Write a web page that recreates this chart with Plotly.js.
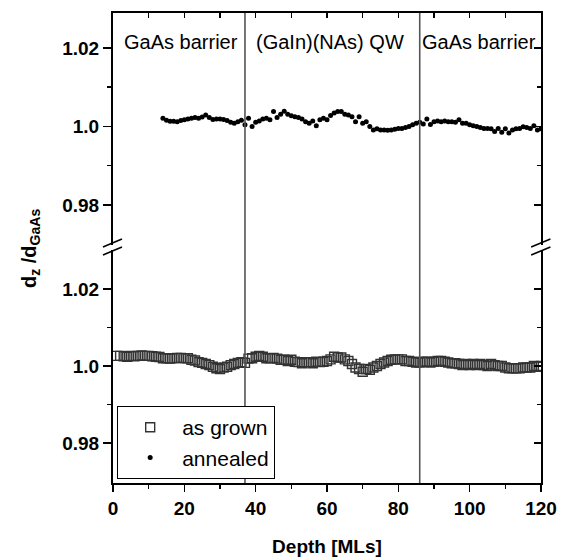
<!DOCTYPE html>
<html>
<head>
<meta charset="utf-8">
<script src="https://cdn.plot.ly/plotly-3.0.1.min.js"></script>
<style>html,body{margin:0;padding:0;background:#fff;}#chart{width:565px;height:560px;}</style>
</head>
<body>
<div id="chart"></div>
<script>
// ---- data ----
const grownDepth = [1,2,3,4,5,6,7,8,9,10,11,12,13,14,15,16,17,18,19,20,21,22,23,24,25,26,27,28,29,30,31,32,33,34,35,36,37,38,39,40,41,42,43,44,45,46,47,48,49,50,51,52,53,54,55,56,57,58,59,60,61,62,63,64,65,66,67,68,69,70,71,72,73,74,75,76,77,78,79,80,81,82,83,84,85,86,87,88,89,90,91,92,93,94,95,96,97,98,99,100,101,102,103,104,105,106,107,108,109,110,111,112,113,114,115,116,117,118,119,120];
const grownRatio = [1.0026,1.0026,1.0025,1.0024,1.0026,1.0025,1.0026,1.0027,1.0026,1.0026,1.0025,1.0024,1.0023,1.0020,1.0020,1.0019,1.0020,1.0021,1.0021,1.0020,1.0020,1.0016,1.0014,1.0010,1.0008,1.0005,1.0002,0.9998,0.9994,0.9992,0.9996,0.9998,1.0002,1.0005,1.0008,1.0010,1.0008,1.0019,1.0020,1.0024,1.0026,1.0024,1.0020,1.0020,1.0021,1.0019,1.0016,1.0016,1.0013,1.0016,1.0011,1.0010,1.0007,1.0010,1.0010,1.0007,1.0011,1.0010,1.0011,1.0013,1.0017,1.0024,1.0022,1.0022,1.0017,1.0013,1.0005,0.9996,0.9992,0.9985,0.9992,0.9990,0.9996,1.0000,1.0005,1.0009,1.0013,1.0016,1.0017,1.0017,1.0017,1.0013,1.0013,1.0011,1.0009,1.0009,1.0011,1.0011,1.0009,1.0011,1.0013,1.0013,1.0011,1.0009,1.0007,1.0007,1.0005,1.0002,1.0005,1.0002,1.0005,1.0002,1.0005,1.0002,1.0000,1.0005,1.0002,1.0000,1.0000,0.9996,0.9994,0.9994,0.9994,0.9994,0.9996,0.9996,0.9996,1.0000,0.9998,1.0000];

const annealedDepth = [14,15,16,17,18,19,20,21,22,23,24,25,26,27,28,29,30,31,32,33,34,35,36,37,38,39,40,41,42,43,44,45,46,47,48,49,50,51,52,53,54,55,56,57,58,59,60,61,62,63,64,65,66,67,68,69,70,71,72,73,74,75,76,77,78,79,80,81,82,83,84,85,86,87,88,89,90,91,92,93,94,95,96,97,98,99,100,101,102,103,104,105,106,107,108,109,110,111,112,113,114,115,116,117,118,119,120];
const annealedRatio = [1.0021,1.0016,1.0013,1.0013,1.0012,1.0015,1.0017,1.0019,1.0021,1.0023,1.0021,1.0024,1.0029,1.0023,1.0018,1.0019,1.0019,1.0018,1.0015,1.0011,1.0008,1.0012,1.0016,1.0004,1.0021,1.0000,1.0011,1.0014,1.0019,1.0021,1.0017,1.0038,1.0023,1.0031,1.0039,1.0031,1.0027,1.0025,1.0023,1.0019,1.0012,1.0008,1.0014,1.0002,1.0017,1.0021,1.0017,1.0028,1.0034,1.0038,1.0038,1.0031,1.0029,1.0025,1.0012,1.0025,1.0008,1.0012,1.0000,0.9991,0.9994,0.9991,0.9991,0.9990,0.9991,0.9993,0.9995,0.9995,0.9997,1.0000,1.0004,1.0008,1.0011,1.0006,1.0019,1.0005,1.0012,1.0014,1.0012,1.0014,1.0012,1.0012,1.0011,1.0017,1.0008,1.0008,1.0004,1.0002,1.0000,0.9997,0.9995,0.9995,0.9994,0.9987,0.9995,0.9985,0.9994,0.9983,0.9991,0.9994,0.9995,0.9999,0.9997,0.9995,1.0002,0.9991,0.9994];

const seriesNames = ['as grown', 'annealed'];
const regionLabels = ['GaAs barrier', '(GaIn)(NAs) QW', 'GaAs barrier'];
const regionCenters = [19, 60.8, 102.7];
const interfaces = [37, 86];
const yTickVals = [0.98, 1.0, 1.02];
const yTickText = ['0.98', '1.0', '1.02'];
const yMinorVals = [0.99, 1.01];

// ---- style ----
const FONT = 'Liberation Sans, Arial, Helvetica, sans-serif';
const rangeBottom = [0.9696, 1.0301];
const rangeTop = [0.9698, 1.0289];
const domBottom = [0, 0.4957];
const domTop = [0.5064, 1];

// empty helper traces only register the mirrored frame axes (no points)
const frameTrace = (xa, ya) => ({x: [], y: [], type: 'scatter', mode: 'markers', xaxis: xa, yaxis: ya, showlegend: false, hoverinfo: 'skip'});

const traces = [
  {
    x: grownDepth, y: grownRatio, name: seriesNames[0],
    type: 'scatter', mode: 'markers', xaxis: 'x', yaxis: 'y',
    marker: {symbol: 'square-open', size: 9, color: '#333', line: {width: 1.4, color: '#333'}}
  },
  {
    x: annealedDepth, y: annealedRatio, name: seriesNames[1],
    type: 'scatter', mode: 'markers', xaxis: 'x', yaxis: 'y2',
    marker: {symbol: 'circle', size: 5, color: '#000'}
  },
  frameTrace('x2', 'y2'),
  frameTrace('x', 'y3'),
  frameTrace('x', 'y4')
];

const yCommon = {
  showline: true, linewidth: 2, linecolor: '#000', showgrid: false, zeroline: false,
  tickmode: 'array', tickvals: yTickVals, ticktext: yTickText,
  tickwidth: 1.5, tickcolor: '#000',
  tickfont: {family: FONT, size: 19, color: '#000', weight: 'bold'}
};

const shapes = [];
interfaces.forEach(v => shapes.push({
  type: 'line', xref: 'x', yref: 'paper', x0: v, x1: v, y0: 0, y1: 1,
  line: {color: '#555', width: 1.6}, layer: 'above'
}));
// axis break marks (left and right)
[[-0.0234, 0.021], [0.977, 1.022]].forEach(([a, b]) => {
  shapes.push({type: 'line', xref: 'paper', yref: 'paper', x0: a, x1: b, y0: 0.502, y1: 0.519, line: {color: '#000', width: 1.6}});
  shapes.push({type: 'line', xref: 'paper', yref: 'paper', x0: a, x1: b, y0: 0.485, y1: 0.502, line: {color: '#000', width: 1.6}});
});

const annotations = regionLabels.map((t, i) => ({
  text: t, x: regionCenters[i], xref: 'x', y: 0.938, yref: 'paper',
  showarrow: false, xanchor: 'center', yanchor: 'middle',
  font: {family: FONT, size: 20, color: '#000'}
}));
annotations.push({
  text: 'd<sub>z</sub> /d<sub>GaAs</sub>', textangle: -90,
  x: -0.194, xref: 'paper', y: 0.5, yref: 'paper', showarrow: false,
  xanchor: 'center', yanchor: 'middle',
  font: {family: FONT, size: 20, color: '#000', weight: 'bold'}
});

const layout = {
  width: 565, height: 560,
  margin: {l: 113, r: 24.3, t: 13, b: 77, pad: 0},
  paper_bgcolor: '#fff', plot_bgcolor: '#fff',
  showlegend: true,
  legend: {
    x: 0.0093, y: 0.164, xanchor: 'left', yanchor: 'top',
    bgcolor: '#fff', bordercolor: '#000', borderwidth: 1.2,
    itemwidth: 54, tracegroupgap: 0,
    font: {family: FONT, size: 21, color: '#000'}
  },
  xaxis: {
    domain: [0, 1], range: [0, 120], anchor: 'y',
    showline: true, linewidth: 2, linecolor: '#000', showgrid: false, zeroline: false,
    ticks: 'outside', ticklen: 7, tickwidth: 1.5, tickcolor: '#000',
    tick0: 0, dtick: 20,
    minor: {dtick: 10, ticks: 'outside', ticklen: 4, tickwidth: 1.5, tickcolor: '#000'},
    tickfont: {family: FONT, size: 19, color: '#000', weight: 'bold'},
    title: {text: 'Depth [MLs]', standoff: 22, font: {family: FONT, size: 19, color: '#000', weight: 'bold'}}
  },
  xaxis2: {
    overlaying: 'x', anchor: 'y2', side: 'top', range: [0, 120],
    showline: true, linewidth: 2, linecolor: '#000', showgrid: false, zeroline: false,
    ticks: 'inside', ticklen: 5, tickwidth: 1.5, tickcolor: '#000', tick0: 0, dtick: 10,
    showticklabels: false
  },
  yaxis: Object.assign({}, yCommon, {
    domain: domBottom, range: rangeBottom, anchor: 'x',
    ticks: 'outside', ticklen: 8,
    minor: {tickmode: 'array', tickvals: yMinorVals, ticks: 'outside', ticklen: 4, tickwidth: 1.5, tickcolor: '#000'}
  }),
  yaxis2: Object.assign({}, yCommon, {
    domain: domTop, range: rangeTop, anchor: 'x',
    ticks: 'outside', ticklen: 8,
    minor: {tickmode: 'array', tickvals: yMinorVals, ticks: 'outside', ticklen: 4, tickwidth: 1.5, tickcolor: '#000'}
  }),
  yaxis3: Object.assign({}, yCommon, {
    overlaying: 'y', side: 'right', anchor: 'x', range: rangeBottom,
    ticks: 'inside', ticklen: 7, showticklabels: false,
    minor: {tickmode: 'array', tickvals: yMinorVals, ticks: 'inside', ticklen: 4, tickwidth: 1.5, tickcolor: '#000'}
  }),
  yaxis4: Object.assign({}, yCommon, {
    overlaying: 'y2', side: 'right', anchor: 'x', range: rangeTop,
    ticks: 'inside', ticklen: 7, showticklabels: false,
    minor: {tickmode: 'array', tickvals: yMinorVals, ticks: 'inside', ticklen: 4, tickwidth: 1.5, tickcolor: '#000'}
  }),
  shapes: shapes,
  annotations: annotations
};

Plotly.newPlot('chart', traces, layout, {displayModeBar: false, staticPlot: true});
</script>
</body>
</html>
